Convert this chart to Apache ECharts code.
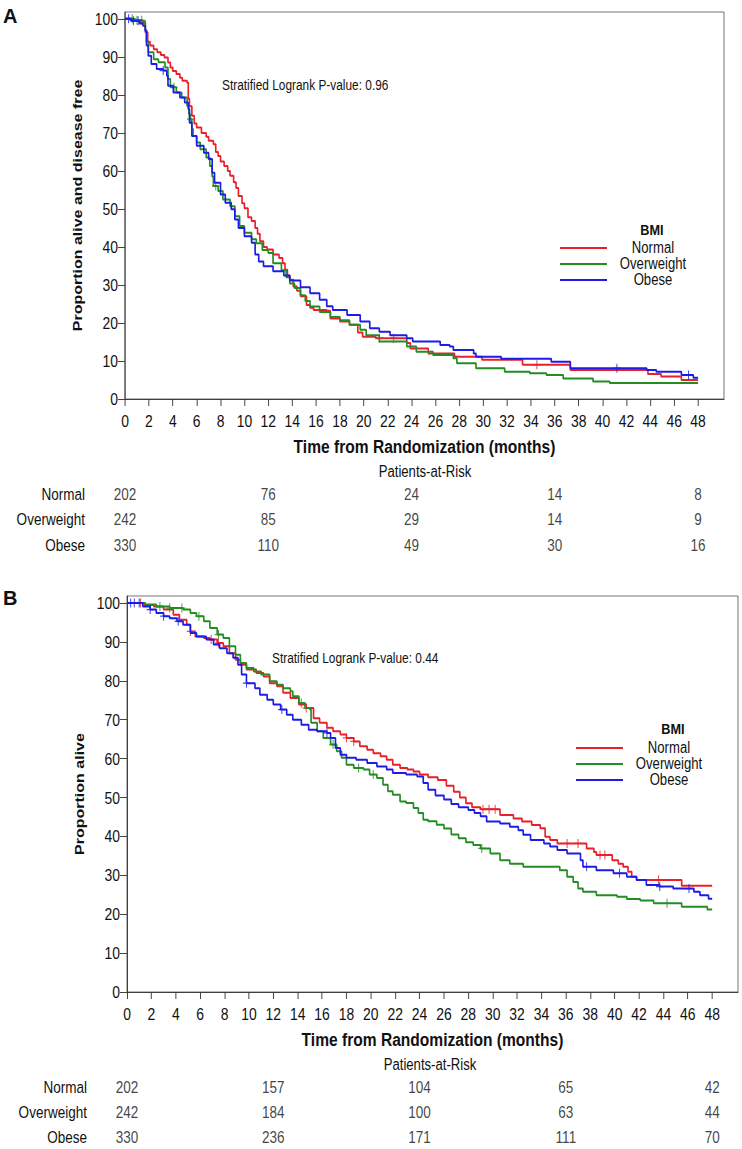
<!DOCTYPE html>
<html><head><meta charset="utf-8">
<script src="https://cdn.jsdelivr.net/npm/echarts@6/dist/echarts.min.js"></script>
<style>
html,body{margin:0;padding:0;background:#fff;overflow:hidden}
#wrap{width:742px;height:1149px;overflow:hidden}
#c{height:1149px;transform-origin:0 0}
</style>
</head><body><div id="wrap"><div id="c"></div></div>
<script>
// ---------- data ----------
const seriesNames = ['Normal', 'Overweight', 'Obese'];
const xTickLabels = [0,2,4,6,8,10,12,14,16,18,20,22,24,26,28,30,32,34,36,38,40,42,44,46,48];
const yTickLabels = [0,10,20,30,40,50,60,70,80,90,100];
const riskTimes = [0, 12, 24, 36, 48];

const riskA_Normal = [202, 76, 24, 14, 8];
const riskA_Overweight = [242, 85, 29, 14, 9];
const riskA_Obese = [330, 110, 49, 30, 16];
const riskB_Normal = [202, 157, 104, 65, 42];
const riskB_Overweight = [242, 184, 100, 63, 44];
const riskB_Obese = [330, 236, 171, 111, 70];

// Panel A: proportion alive and disease free (time, %) – step changes
const kmA_Normal = [[0,100],[0.6,99.5],[1.3,99],[1.7,96.5],[1.9,94],[2.1,93],[2.4,92],[2.7,91.2],[3.0,90.5],[3.3,89.8],[3.6,88.5],[3.8,87.2],[4.0,86.3],[4.3,85.5],[4.6,84.5],[4.8,83.7],[5.2,83.2],[5.3,79],[5.4,77],[5.6,74.5],[5.8,72.5],[6.0,71.4],[6.4,70],[6.8,69],[7.0,67.9],[7.4,67],[7.6,65],[7.8,63.9],[8.0,62.5],[8.3,61.3],[8.6,60],[8.8,58.7],[9.1,57],[9.3,55.5],[9.5,53.4],[9.8,51.5],[10.0,50.2],[10.3,47.8],[10.6,46.8],[10.9,45],[11.1,43.5],[11.3,41.5],[11.6,40],[11.9,39.3],[12.4,38],[12.9,37.1],[13.2,35.7],[13.4,34],[13.6,32.5],[13.8,31.4],[14.1,29.6],[14.4,28.5],[14.7,27],[15.2,24.7],[15.5,24],[15.8,23.4],[16.9,23.2],[17.2,21.2],[18.0,20.4],[18.8,19.5],[19.5,17.5],[19.9,16.4],[21.0,16],[23.6,14.7],[23.9,13.3],[25.4,12],[27.6,11.1],[29.9,10.3],[33.3,9],[37.3,7.6],[43.8,6.6],[44.9,5.9],[46.6,5],[48,5]];
const kmA_Overweight = [[0,100],[0.8,99.6],[1.5,99.3],[1.7,97],[1.8,94],[1.95,91.2],[2.4,89.4],[2.8,88.6],[3.35,87.2],[3.6,84.2],[3.8,82],[4.3,80.6],[4.75,79.3],[5.2,77.1],[5.35,75],[5.45,73.6],[5.6,71],[5.7,69.2],[6.0,67.5],[6.3,65.7],[6.8,63.5],[7.1,61.3],[7.3,58.5],[7.4,56],[7.8,54.7],[8.2,52.5],[8.8,50.7],[9.2,48.1],[9.6,45.5],[10.0,43.7],[10.6,42],[11.0,41],[11.5,39.2],[12.0,38.4],[12.4,35.7],[13.1,33.9],[13.5,32],[13.8,30.4],[14.2,29.2],[14.7,27.3],[15.1,25.8],[15.5,24.3],[16.3,22.9],[17.2,21.6],[18.0,20.7],[18.8,19.5],[19.7,18.2],[20.2,16.8],[21.3,15.1],[23.6,13.8],[24.4,12.4],[25.8,11.6],[27.5,10.7],[27.8,9.4],[29.4,8.1],[31.8,7.2],[33.9,6.8],[35.3,6.3],[36.7,5.4],[39.2,4.6],[40.6,4.2],[48,4.2]];
const kmA_Obese = [[0,100],[0.5,99.5],[1.2,98.8],[1.5,98.2],[1.7,96.9],[1.8,93],[1.95,90.3],[2.2,88.1],[2.65,86.8],[3.2,86.4],[3.5,85],[3.6,82.4],[4.05,80.6],[4.6,79.3],[5.0,78],[5.3,76.3],[5.4,72.7],[5.6,69.2],[6.0,66.6],[6.6,64.8],[7.0,63.1],[7.3,59.5],[7.5,56.9],[8.0,53.8],[8.4,51.6],[8.9,49.9],[9.2,47.2],[9.5,45],[10.0,42.8],[10.6,41.1],[10.9,38],[11.2,36.2],[11.6,34.9],[12.4,33.6],[13.3,32.5],[13.8,31.2],[14.7,29.4],[15.5,27.8],[16.3,26.1],[16.9,24.4],[17.4,23.4],[18.6,22.1],[19.7,20.4],[20.5,18.6],[21.3,17.7],[22.2,16.8],[23.6,16],[24.1,15.1],[26.4,14.2],[27.2,13.8],[27.5,12.9],[29.2,12],[29.4,11.1],[31.5,10.6],[35.7,9.8],[37.3,8.1],[43.7,7.6],[44.5,7.2],[46.6,6.3],[47.6,5.6],[48,5.6]];

// Panel B: proportion alive
const kmB_Normal = [[0,100],[1.4,99.5],[2.2,99.1],[3.0,98.3],[3.8,97],[4.3,95.7],[4.9,94.4],[5.2,92.7],[5.6,91.4],[6.3,91],[6.8,90.6],[7.4,89.7],[7.9,88.9],[8.4,87.1],[8.9,85.4],[9.3,84.1],[9.8,82.9],[10.6,82],[11.2,81.1],[11.7,79.4],[12.3,78.6],[12.8,76.9],[13.4,75.6],[14.1,73.9],[14.7,73],[15.3,70.4],[15.8,69.2],[16.4,67.9],[16.9,67],[17.5,66.2],[18,65.3],[18.6,64.4],[19.1,63.2],[19.7,62.3],[20.2,61.4],[20.8,60.6],[21.3,59.7],[21.8,58.4],[22.4,57.6],[23,57.2],[23.5,56.7],[24,55.9],[24.7,55.2],[25.5,54.5],[26.2,53],[26.8,51.5],[27.3,50],[27.8,48.5],[28.3,47.5],[29,47],[30.6,45.5],[31.7,44.6],[32.4,43.8],[33.2,42.9],[33.9,42.1],[34.3,39.9],[34.7,39.1],[35.3,38.2],[37.7,36.9],[38.3,36],[38.5,35.2],[39.8,33.9],[40.3,33],[40.7,32.2],[41.1,30.9],[41.4,29.6],[41.8,28.8],[45.5,27.3],[48,27.3]];
const kmB_Overweight = [[0,100],[1.5,99.6],[2.4,99.1],[3.5,98.7],[4.6,98.3],[5.2,97.4],[5.7,96.6],[6.3,95.3],[6.8,93.6],[7.4,91.9],[7.9,91],[8.4,88.9],[8.9,86.7],[9.3,84.6],[9.8,83.3],[10.4,82.4],[11,81.6],[11.7,79.9],[12.3,79],[12.8,78.1],[13.4,77.3],[13.6,76],[14.1,74.3],[14.6,73],[15,72.6],[15.1,69.2],[15.6,67],[16.1,65.3],[16.7,63.6],[17.2,61.9],[17.6,60.2],[18,58.4],[18.6,57.6],[19.4,57.2],[19.9,55.9],[20.5,55],[21,53.3],[21.4,51.6],[21.8,50.7],[22.4,49],[22.9,48.6],[23.5,47.3],[23.9,46],[24.3,44.3],[24.7,43.9],[25.4,43],[26,42],[26.6,40.5],[27.2,39.5],[27.8,38.5],[28.4,37.8],[29,36.9],[29.8,35.6],[30.6,33.9],[31.4,33],[32.5,32.2],[35.5,31.3],[36.1,29.6],[36.6,28.3],[37,26.6],[37.4,25.8],[38.5,24.9],[40.2,24.5],[41,23.9],[42.1,23.5],[43.2,22.8],[45.5,21.9],[47.6,21.2],[48,21.2]];
const kmB_Obese = [[0,100],[1.3,99.1],[1.9,98.3],[2.4,97.4],[3,96.6],[3.5,96.1],[4.1,95.3],[4.6,94.4],[5.2,92.3],[5.7,91.4],[6.5,90.6],[7.1,89.3],[7.6,88.4],[8.2,87.1],[8.7,85.9],[9.1,84.1],[9.4,81.6],[9.8,79.4],[10.5,78.1],[10.9,76.4],[11.5,75.1],[12,73.9],[12.6,72.6],[13.1,71.3],[13.6,70],[14.3,68.7],[14.9,67.4],[15.6,67],[16.4,66.6],[16.7,65.3],[17.1,62.7],[17.5,61],[18,60.2],[18.8,59.7],[19.7,58.9],[20.5,58],[21.3,57.2],[21.8,56.3],[22.9,55.9],[23.8,55.4],[24.3,53.7],[24.7,52],[25.3,50.5],[26,49.5],[26.6,48.3],[27.2,47.5],[28,46.8],[28.5,46],[29,45.2],[29.5,43.8],[30.6,43.3],[31.4,42.5],[32.1,41.6],[32.5,40.4],[33.1,39.1],[34.2,38.2],[34.7,37.4],[35.3,36.5],[36.1,35.6],[37.2,33.9],[37.4,32.2],[38.5,31.3],[39.9,30.5],[41,29.6],[41.8,28.8],[42.6,27.5],[43.7,27.1],[44.8,26.6],[46.5,25.8],[47,24.9],[47.7,24],[48,24]];

// censoring times (months)
const censorA_Normal = [21.3, 22.5, 34.5];
const censorA_Overweight = [0.6, 1.0, 1.4, 4.1, 5.5, 7.6];
const censorA_Obese = [0.3, 0.7, 1.1, 3.2, 41.2, 47.2];
const censorB_Normal = [1.1, 5.2, 6.9, 7.5, 14.7, 18.0, 18.6, 29.2, 29.7, 30.2, 36.1, 37.0, 38.8, 39.2, 43.6];
const censorB_Overweight = [2.7, 3.5, 4.5, 5.9, 7.5, 14.3, 16.9, 19.0, 20.2, 29.1, 44.3];
const censorB_Obese = [0.3, 0.6, 1.0, 1.9, 3.0, 4.2, 9.8, 12.7, 16.4, 37.7, 40.4, 43.7, 46.1];

// ---------- styling ----------
// The original graphic is horizontally compressed; reproduce that with a horizontal scale.
const SX = 0.82;
const X = px => px / SX;
const colors = ['#e8202a', '#238c23', '#1c1ce6'];
const SANS = "'Liberation Sans', Arial, Helvetica, sans-serif";
const TXT = '#111';
const crossPath = 'path://M-0.14,-1H0.14V1H-0.14Z M-1,-0.14H1V0.14H-1Z';

const el = document.getElementById('c');
el.style.width = X(742) + 'px';
el.style.transform = 'scaleX(' + SX + ')';

function stepValue(curve, t) {
  let v = curve[0][1];
  for (const p of curve) { if (p[0] <= t) v = p[1]; }
  return v;
}

const gridsDef = [
  { left: X(125), top: 12, width: X(599), height: 387 },
  { left: X(125), top: 481, width: X(599), height: 76.5 },
  { left: X(127), top: 596, width: X(611), height: 396 },
  { left: X(127), top: 1075, width: X(611), height: 76.5 }
];
const xMaxA = 50.17, xMaxB = 50.12, yMax = 101.8;

function plotX(maxV, name) {
  return {
    type: 'value', min: 0, max: maxV,
    axisLine: { show: true, onZero: false, lineStyle: { color: '#333', width: 1 } },
    axisTick: { show: true, customValues: xTickLabels, length: 7, lineStyle: { color: '#333' } },
    axisLabel: { show: true, customValues: xTickLabels, margin: 13, color: TXT, fontFamily: SANS, fontSize: 17 },
    splitLine: { show: false },
    name: name, nameLocation: 'middle', nameGap: 38,
    nameTextStyle: { color: TXT, fontFamily: SANS, fontWeight: 'bold', fontSize: 19 }
  };
}
function plotY(name) {
  return {
    type: 'value', min: 0, max: yMax,
    axisLine: { show: true, lineStyle: { color: '#333', width: 1 } },
    axisTick: { show: true, customValues: yTickLabels, length: X(7), lineStyle: { color: '#333' } },
    axisLabel: { show: true, customValues: yTickLabels, margin: X(7), color: TXT, fontFamily: SANS, fontSize: 17 },
    splitLine: { show: false },
    name: name, nameLocation: 'middle', nameGap: 50, nameRotate: 90,
    nameTextStyle: { color: TXT, fontFamily: SANS, fontWeight: 'bold', fontSize: 16 }
  };
}
function riskX(maxV) {
  return { type: 'value', min: 0, max: maxV, show: false, splitLine: { show: false } };
}
function riskY() {
  return {
    type: 'category', data: seriesNames, inverse: true,
    axisLine: { show: false }, axisTick: { show: false }, splitLine: { show: false },
    axisLabel: { margin: X(40), color: TXT, fontFamily: SANS, fontSize: 16.5 }
  };
}

const series = [];
const kmA = [kmA_Normal, kmA_Overweight, kmA_Obese];
const kmB = [kmB_Normal, kmB_Overweight, kmB_Obese];
const cenA = [censorA_Normal, censorA_Overweight, censorA_Obese];
const cenB = [censorB_Normal, censorB_Overweight, censorB_Obese];
const riskA = [riskA_Normal, riskA_Overweight, riskA_Obese];
const riskB = [riskB_Normal, riskB_Overweight, riskB_Obese];

function addPanel(km, cen, risk, xi, yi, rxi, ryi) {
  km.forEach((curve, i) => {
    series.push({
      name: seriesNames[i], type: 'line', step: 'end', xAxisIndex: xi, yAxisIndex: yi,
      data: curve, showSymbol: false, symbol: 'none', animation: false, z: 2 + i,
      lineStyle: { color: colors[i], width: 2 }, itemStyle: { color: colors[i] }
    });
    series.push({
      name: seriesNames[i] + ' censored', type: 'scatter', xAxisIndex: xi, yAxisIndex: yi,
      data: cen[i].map(t => [t, stepValue(curve, t)]), symbol: crossPath, symbolSize: 9,
      animation: false, z: 2 + i, itemStyle: { color: colors[i] }
    });
  });
  const pts = [];
  risk.forEach((row, i) => row.forEach((v, j) => pts.push([riskTimes[j], seriesNames[i], v])));
  series.push({
    name: 'risk', type: 'scatter', xAxisIndex: rxi, yAxisIndex: ryi, data: pts,
    symbolSize: 1, itemStyle: { color: 'rgba(0,0,0,0)' }, animation: false, silent: true,
    label: { show: true, position: 'inside', formatter: p => String(p.value[2]), color: TXT, fontFamily: SANS, fontSize: 16.5 }
  });
}
addPanel(kmA, cenA, riskA, 0, 0, 1, 1);
addPanel(kmB, cenB, riskB, 2, 2, 3, 3);

function legendAt(left, top) {
  const iconW = X(47);
  const textW = 2 * (X(46) - 5);
  return {
    data: seriesNames, orient: 'vertical', left: X(left), top: top, icon: 'rect',
    itemWidth: iconW, itemHeight: 2, itemGap: 0, selectedMode: false, padding: 0,
    formatter: '{c|{name}}',
    textStyle: { rich: { c: { width: textW, align: 'center', fontFamily: SANS, fontSize: 16, lineHeight: 16.5, color: TXT } } }
  };
}

function txt(x, y, text, opts, extra) {
  return Object.assign({ type: 'text', x: X(x), y: y, style: Object.assign({ text: text, fill: TXT, fontFamily: SANS, fontSize: 16, textAlign: 'left', textVerticalAlign: 'middle' }, opts || {}) }, extra || {});
}

const option = {
  animation: false,
  backgroundColor: '#fff',
  grid: gridsDef.map((g, i) => Object.assign({ show: i % 2 === 0, borderColor: '#666', borderWidth: 1, backgroundColor: 'transparent' }, g)),
  xAxis: [plotX(xMaxA, 'Time from Randomization (months)'), riskX(xMaxA), plotX(xMaxB, 'Time from Randomization (months)'), riskX(xMaxB)].map((a, i) => Object.assign(a, { gridIndex: i })),
  yAxis: [plotY('Proportion alive and disease free'), riskY(), plotY('Proportion alive'), riskY()].map((a, i) => Object.assign(a, { gridIndex: i })),
  legend: [legendAt(560, 240), legendAt(576, 740)],
  series: series,
  graphic: [
    txt(3, 16, 'A', { fontWeight: 'bold', fontSize: 20 }, { scaleX: 1 / SX }),
    txt(3, 598, 'B', { fontWeight: 'bold', fontSize: 20 }, { scaleX: 1 / SX }),
    txt(222, 85, 'Stratified Logrank P-value: 0.96', { fontSize: 14.5 }),
    txt(272, 658, 'Stratified Logrank P-value: 0.44', { fontSize: 14.5 }),
    txt(652, 230, 'BMI', { fontWeight: 'bold', textAlign: 'center', fontSize: 15.5 }),
    txt(673, 729, 'BMI', { fontWeight: 'bold', textAlign: 'center', fontSize: 15.5 }),
    txt(425, 472, 'Patients-at-Risk', { textAlign: 'center' }),
    txt(430, 1065, 'Patients-at-Risk', { textAlign: 'center' })
  ]
};

const chart = echarts.init(el, null, { renderer: 'svg' });
chart.setOption(option);
</script>
</body></html>
